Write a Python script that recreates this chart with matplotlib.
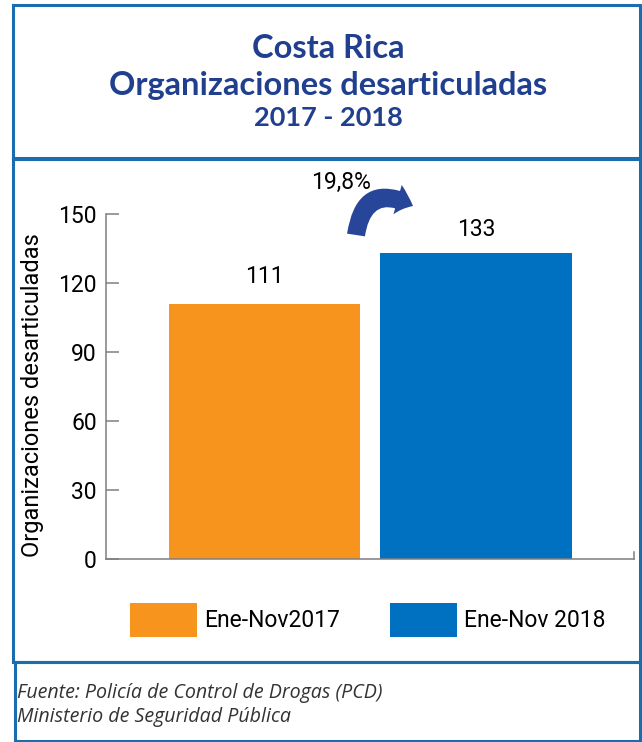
"""
Costa Rica - organizaciones desarticuladas 2017-2018 (barras + recuadros).
Salida: out.png
"""
import matplotlib
matplotlib.use("Agg")
import matplotlib.pyplot as plt
from matplotlib.patches import Rectangle, FancyArrowPatch

# ---- datos ----
periods = ["Ene-Nov2017", "Ene-Nov 2018"]
values = [111, 133]
bar_colors = ["#f7941d", "#0070c0"]
yticks = [0, 30, 60, 90, 120, 150]
change_label = "19,8%"
title_lines = ["Costa Rica", "Organizaciones desarticuladas", "2017 - 2018"]
source_lines = ["Fuente: Policía de Control de Drogas (PCD)",
                "Ministerio de Seguridad Pública"]
ylabel = "Organizaciones desarticuladas"

W, H = 642, 742
FRAME = "#1b6db0"
NAVY = "#213f8f"
GRAY = "#7f7f7f"
FS = 16.5
plt.rcParams["font.family"] = ["Roboto", "DejaVu Sans"]


def fx(x):
    return x / W


def fy(y):
    return 1 - y / H


fig = plt.figure(figsize=(W / 100, H / 100), dpi=100)

# ---- recuadros ----
for (x0, y0, x1, y1) in [(13, 5, 640, 158), (13, 159, 640, 662), (15, 662, 640, 741)]:
    fig.add_artist(Rectangle((fx(x0), fy(y1)), fx(x1) - fx(x0), fy(y0) - fy(y1),
                             transform=fig.transFigure, fill=False,
                             ec=FRAME, lw=2.2))

# ---- titulo ----
for txt, y, size in zip(title_lines, [48, 85, 118], [23.5, 23.5, 19.5]):
    fig.text(fx(328), fy(y), txt, ha="center", va="center", fontsize=size,
             fontweight="bold", color=NAVY, family=["Lato", "DejaVu Sans"])

# ---- grafico ----
ax = fig.add_axes([fx(106), fy(559), fx(634) - fx(106), (559 - 214) / H])
x = list(range(len(values)))
bars = ax.bar(x, values, width=0.905, color=bar_colors)
ax.set_xlim(-0.749, 1.747)
ax.set_ylim(0, 150)
ax.set_yticks(yticks)
ax.set_xticks([])
ax.tick_params(axis="y", direction="in", length=9.4, width=1.1, color=GRAY,
               labelsize=FS, pad=6.5)
for s in ["left", "bottom", "right"]:
    ax.spines[s].set_color(GRAY)
    ax.spines[s].set_linewidth(1.1)
ax.spines["top"].set_visible(False)
ax.spines["right"].set_bounds(0, 3)
ax.set_ylabel(ylabel, fontsize=17)
ax.yaxis.set_label_coords(-0.118, 0.475)

for xi, v, pad in zip(x, values, [11, 9]):
    ax.annotate(f"{v}", (xi, v), xytext=(0, pad), textcoords="offset points",
                ha="center", va="bottom", fontsize=FS)

# ---- flecha de variacion ----
fig.text(fx(341), fy(182), change_label, ha="center", va="center", fontsize=FS)
arr = FancyArrowPatch(posA=(fx(356), fy(235)), posB=(fx(413), fy(206)),
                      transform=fig.transFigure,
                      connectionstyle="arc3,rad=-0.7",
                      arrowstyle="simple,head_length=1.2,head_width=2.2,tail_width=1.3",
                      mutation_scale=10, shrinkA=0, shrinkB=0,
                      color="#27469a", lw=0)
fig.add_artist(arr)

# ---- leyenda ----
ax.legend(list(bars), periods, loc="upper left", ncol=2,
          bbox_to_anchor=(fx(130), fy(603)), bbox_transform=fig.transFigure,
          frameon=False, borderpad=0, borderaxespad=0, fontsize=FS,
          handlelength=2.92, handleheight=1.9, handletextpad=0.31,
          columnspacing=2.2)

# ---- fuente ----
for txt, y in zip(source_lines, [693, 717]):
    fig.text(fx(17), fy(y), txt, ha="left", va="center", fontsize=14.1,
             style="italic", color="#333333", family=["Open Sans", "DejaVu Sans"])

fig.savefig("out.png", dpi=100)
plt.close(fig)
